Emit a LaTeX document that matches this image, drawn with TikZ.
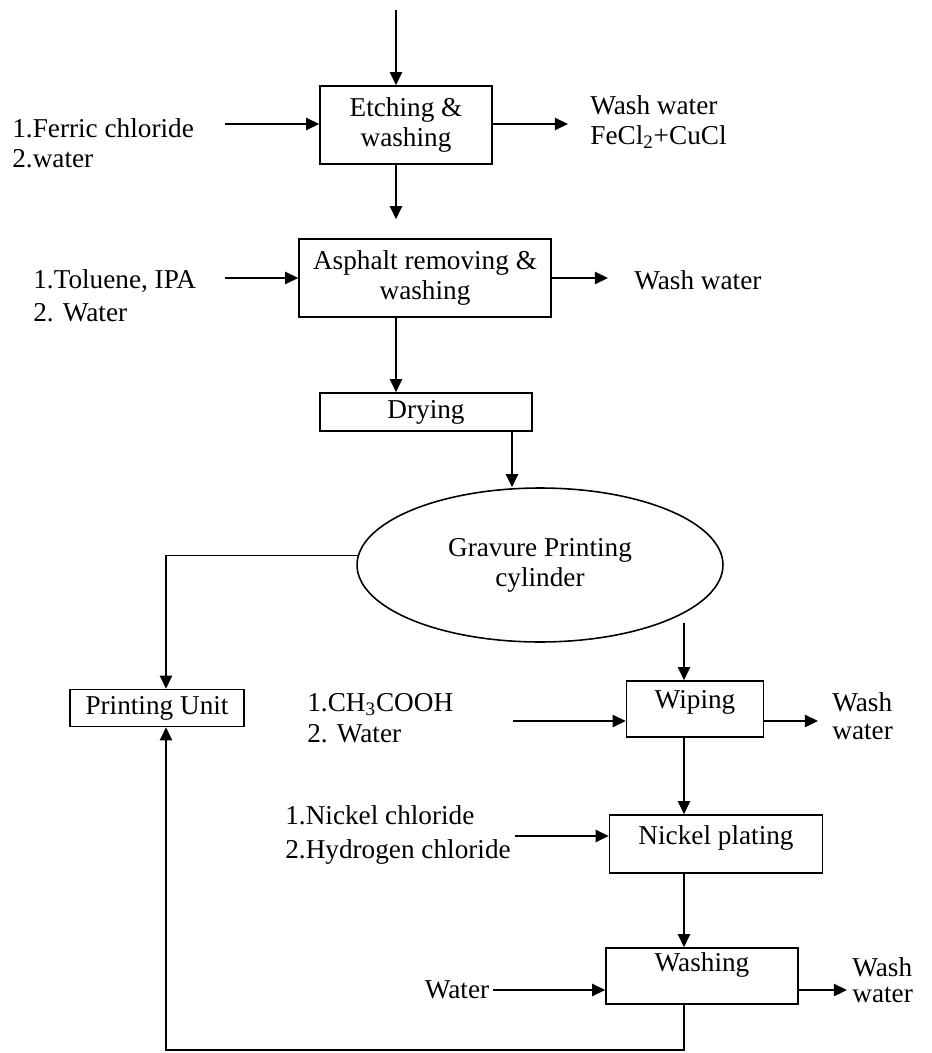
\documentclass[tikz,border=0pt]{standalone}
\usepackage{fontspec}
\setmainfont{Liberation Serif}
\usetikzlibrary{arrows.meta,shapes.geometric}
\begin{document}
\begin{tikzpicture}[x=0.02cm,y=-0.02cm,
  every node/.style={font=\fontsize{15.5}{17}\selectfont, inner sep=0pt},
  box/.style={draw, line width=0.9pt, rectangle, align=center},
  cylshape/.style={draw, line width=0.9pt, ellipse, align=center},
  flow/.style={line width=0.9pt, -{Triangle[length=7.5pt,width=7pt]}},
  feed/.style={anchor=west, align=left},
]
\useasboundingbox (0,0) rectangle (931,1053);

% process units
\node[box, minimum width=3.44cm, minimum height=1.56cm] (etch) at (406,125) {Etching \&\\washing};
\node[box, minimum width=5.04cm, minimum height=1.56cm] (asph) at (425,278) {Asphalt removing \&\\washing};
\node[box, minimum width=4.24cm, minimum height=0.76cm] (dry) at (426,412) {Drying};
\node[cylshape, minimum width=7.32cm, minimum height=3.08cm] (cyl) at (540,565) {Gravure Printing\\cylinder};
\node[box, minimum width=3.48cm, minimum height=0.74cm] (pu) at (157,708) {Printing Unit};
\node[box, minimum width=2.74cm, minimum height=1.12cm] (wip) at (695,709) {};
\node (wipt) at (695,702) {Wiping};
\node[box, minimum width=4.26cm, minimum height=1.16cm] (nick) at (716,844) {};
\node (nickt) at (716,838) {Nickel plating};
\node[box, minimum width=3.84cm, minimum height=1.12cm] (wsh) at (702,976) {};
\node (wsht) at (702,965) {Washing};

% feeds and effluents
\node[feed] (fer) at (12,143) {1.Ferric chloride\\2.water};
\node[feed] (ww1) at (590,122) {\fontsize{15.5}{16.5}\selectfont Wash water\\FeCl\textsubscript{2}+CuCl};
\node[feed, font=\fontsize{15.5}{18.8}\selectfont] (tol) at (33,296) {1.Toluene, IPA\\2. Water};
\node[feed] (ww2) at (634,280) {Wash water};
\node[feed, font=\fontsize{15.5}{17.6}\selectfont] (ace) at (307,718) {1.CH\textsubscript{3}COOH\\2. Water};
\node[feed, font=\fontsize{15.5}{16}\selectfont] (ww3) at (832,716) {Wash\\water};
\node[feed, font=\fontsize{15.5}{19.4}\selectfont] (nic) at (285,835) {1.Nickel chloride\\2.Hydrogen chloride};
\node[anchor=east, inner sep=2pt] (wtr) at (493,990) {Water};
\node[feed, font=\fontsize{15.5}{14.8}\selectfont] (ww4) at (852,980) {Wash\\water};

% helper points
\coordinate (src) at (396,10);
\coordinate (ferin) at (225,124);
\coordinate (etout) at (568,124);
\coordinate (tolin) at (225,278);
\coordinate (asout) at (608,278);
\coordinate (dryx) at (512,0);
\coordinate (pux) at (166,0);
\coordinate (colR) at (684,0);
\coordinate (cylout) at (684,623);
\coordinate (acein) at (513,721);
\coordinate (wipout) at (818,721);
\coordinate (nicin) at (515,836);
\coordinate (wshout) at (847,990);
\coordinate (loopc) at (166,1050);

% main line
\draw[flow] (src) -- (src |- etch.north);
\draw[flow] (ferin) -- (ferin -| etch.west);
\draw[flow] (etch.east |- etout) -- (etout);
\draw[flow, shorten >=0.38cm] (src |- etch.south) -- (src |- asph.north);
\draw[flow] (tolin) -- (tolin -| asph.west);
\draw[flow] (asph.east |- asout) -- (asout);
\draw[flow] (src |- asph.south) -- (src |- dry.north);
\draw[flow] (dryx |- dry.south) -- (dryx |- cyl.north);
\draw[flow] (cyl.177) -| (pux |- pu.north);

% cylinder reconditioning
\draw[flow] (cylout) -- (cylout |- wip.north);
\draw[flow] (acein) -- (acein -| wip.west);
\draw[flow] (wip.east |- wipout) -- (wipout);
\draw[flow] (colR |- wip.south) -- (colR |- nick.north);
\draw[flow] (nicin) -- (nicin -| nick.west);
\draw[flow] (colR |- nick.south) -- (colR |- wsh.north);
\draw[flow] (wtr.east) -- (wtr.east -| wsh.west);
\draw[flow] (wsh.east |- wshout) -- (wshout);
\draw[flow] (colR |- wsh.south) |- (loopc) -- (pux |- pu.south);
\end{tikzpicture}
\end{document}
